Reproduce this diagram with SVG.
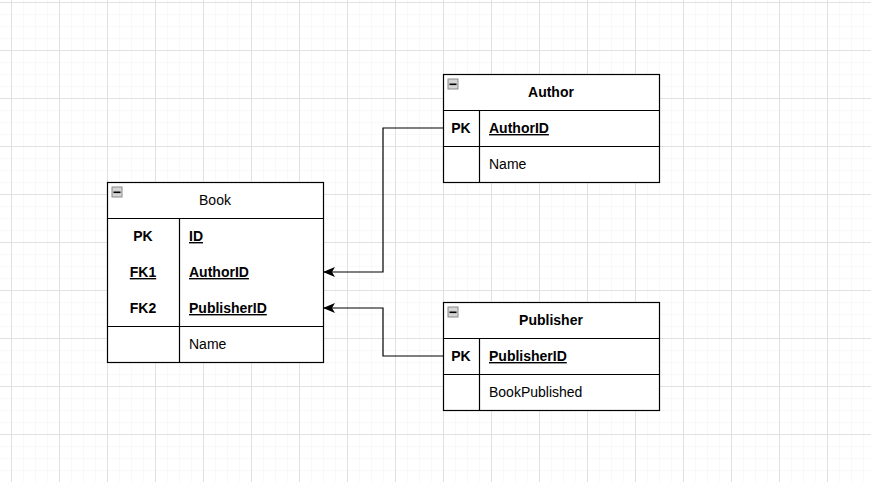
<svg xmlns="http://www.w3.org/2000/svg" width="871" height="482" viewBox="0 0 871 482">
  <defs>
    <pattern id="minor" x="11" y="2" width="12" height="12" patternUnits="userSpaceOnUse">
      <path d="M0 0V12M0 0H12" fill="none" stroke="#f3f3f3" stroke-width="1"/>
    </pattern>
    <pattern id="major" x="11" y="2" width="48" height="48" patternUnits="userSpaceOnUse">
      <path d="M0.5 0V48M0 0.5H48" fill="none" stroke="#e1e1e1" stroke-width="1"/>
    </pattern>
    <marker id="arrow" viewBox="0 0 12 10" refX="11" refY="5" markerWidth="12" markerHeight="10" markerUnits="userSpaceOnUse" orient="auto">
      <path d="M0 0L12 5L0 10L3 5Z" fill="#000"/>
    </marker>
    <g id="icon">
      <rect x="0.5" y="0.5" width="10" height="10" fill="#d4d4d4" stroke="#8a8a8a"/>
      <rect x="2" y="5" width="7" height="1.6" fill="#000"/>
    </g>
  </defs>
  <style>
    .tbl { fill: #fff; stroke: #000; stroke-width: 1.2; }
    .ln { stroke: #000; stroke-width: 1.2; fill: none; }
    text { font-family: "Liberation Sans", Arial, sans-serif; font-size: 14px; fill: #000; }
    .b { font-weight: bold; }
    .c { text-anchor: middle; }
    .u { text-decoration: underline; }
    .conn { stroke: #000; stroke-width: 1.2; fill: none; }
  </style>
  <rect width="871" height="482" fill="#fff"/>
  <rect width="871" height="482" fill="url(#minor)"/>
  <rect width="871" height="482" fill="url(#major)"/>

  <g id="connectors">
    <path class="conn" d="M443 128H383V272H324" marker-end="url(#arrow)"/>
    <path class="conn" d="M443 356H383V308H324" marker-end="url(#arrow)"/>
  </g>

  <g id="book">
    <rect class="tbl" x="107.5" y="182.5" width="216" height="180"/>
    <path class="ln" d="M107.5 218.5H323.5M107.5 326.5H323.5M179.5 218.5V362.5"/>
    <use href="#icon" x="111.5" y="186.5"/>
    <text class="c" x="215" y="205">Book</text>
    <text class="b c" x="143" y="241">PK</text>
    <text class="b u" x="189" y="241">ID</text>
    <text class="b c u" x="143" y="277">FK1</text>
    <text class="b u" x="189" y="277">AuthorID</text>
    <text class="b c" x="143" y="313">FK2</text>
    <text class="b u" x="189" y="313">PublisherID</text>
    <text x="189" y="349">Name</text>
  </g>

  <g id="author">
    <rect class="tbl" x="443.5" y="74.5" width="216" height="108"/>
    <path class="ln" d="M443.5 110.5H659.5M443.5 146.5H659.5M479.5 110.5V182.5"/>
    <use href="#icon" x="447.5" y="78.5"/>
    <text class="b c" x="551" y="97">Author</text>
    <text class="b c" x="461" y="133">PK</text>
    <text class="b u" x="489" y="133">AuthorID</text>
    <text x="489" y="169">Name</text>
  </g>

  <g id="publisher">
    <rect class="tbl" x="443.5" y="302.5" width="216" height="108"/>
    <path class="ln" d="M443.5 338.5H659.5M443.5 374.5H659.5M479.5 338.5V410.5"/>
    <use href="#icon" x="447.5" y="306.5"/>
    <text class="b c" x="551" y="325">Publisher</text>
    <text class="b c" x="461" y="361">PK</text>
    <text class="b u" x="489" y="361">PublisherID</text>
    <text x="489" y="397">BookPublished</text>
  </g>
</svg>
